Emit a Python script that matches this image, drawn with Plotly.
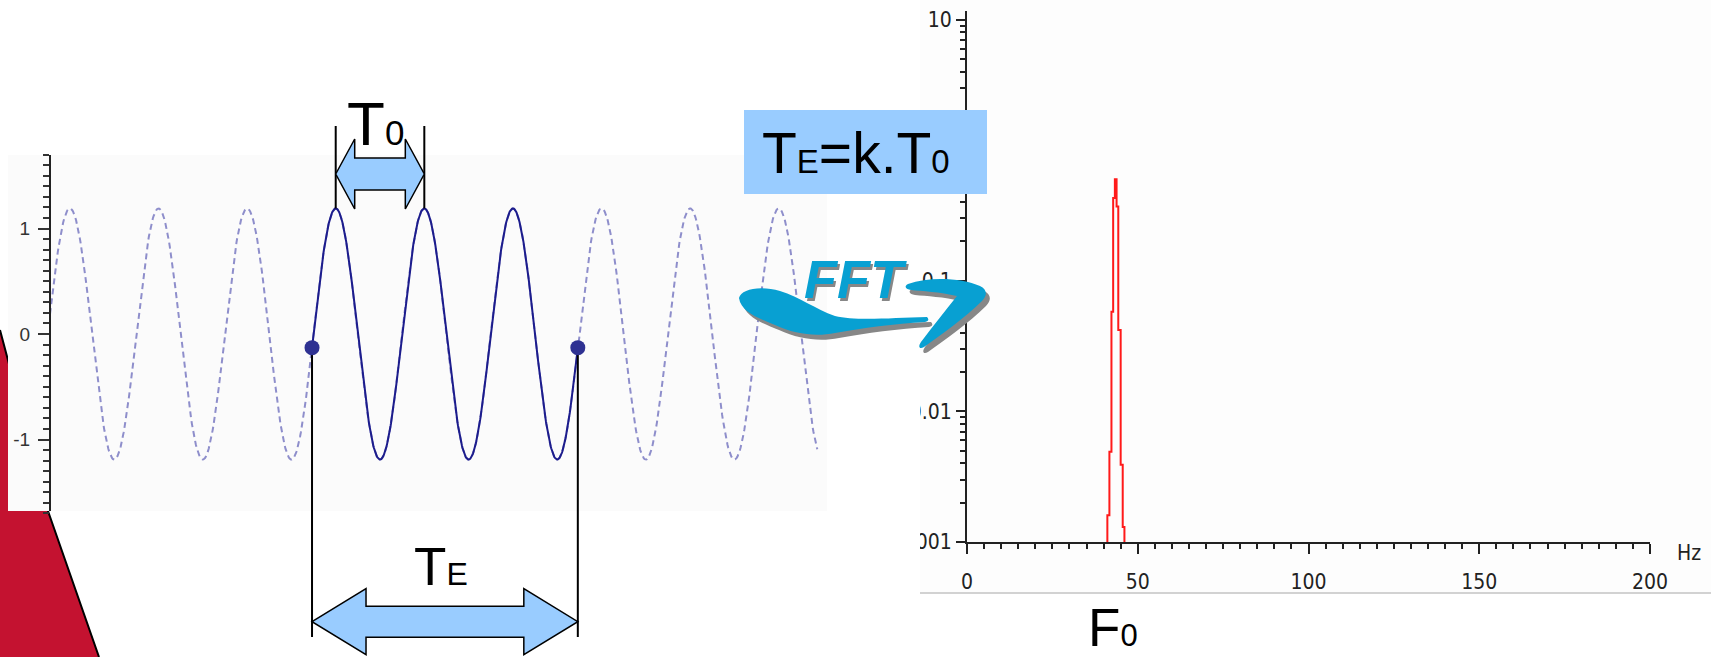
import numpy as np
import plotly.graph_objects as go

W, H = 1711, 657

# ---- test tone (left panel) ----
F0_HZ = 43.3              # tone frequency
AMPLITUDE = 1.19
ZERO_CROSS_MS = 68.7      # a rising zero crossing
SIGNAL_SPAN_MS = (0.0, 200.0)
K_PERIODS = 3             # the analysis window holds k whole periods
WINDOW_START_MS = 68.3
SIG_TICKS = [-1, 0, 1]
SIG_TICK_TEXT = ["-1", "0", "1"]

# ---- magnitude spectrum of the windowed tone (right panel) ----
SPEC_HZ = [41.1, 41.1, 41.7, 42.3, 42.8, 43.3, 43.8, 44.3, 45.0, 45.6, 46.1]
SPEC_MAG = [0.001, 0.0016, 0.0049, 0.058, 0.43, 0.6, 0.37, 0.042, 0.0039, 0.0013, 0.001]
FREQ_TICKS = [0, 50, 100, 150, 200]
MAG_TICKS = [0.001, 0.01, 0.1, 10]          # the "1" label sits under the formula box
MAG_TICK_TEXT = ["0.001", "0.01", "0.1", "10"]

# ---- panel geometry (pixels) ----
SIG_X0_PX, SIG_X1_PX = 50, 827
SIG_ZERO_PX = 334
SIG_PX_PER_UNIT = 105.5
PERIOD_PX = 88.6
SPEC_X0_PX, SPEC_X1_PX = 967, 1650
SPEC_TOP_PX, SPEC_BOTTOM_PX = 11, 542
SPEC_PX_PER_DECADE = 130.6

TEXT_FONT = "Liberation Sans, Arial, sans-serif"
AXIS_FONT = "Liberation Sans Narrow, Arial Narrow, DejaVu Sans Condensed, sans-serif"
BLUE_FILL = "#99ccff"
CYAN = "#08a0d2"
SHADOW = "#878787"

T0_MS = 1000.0 / F0_HZ
PX_PER_MS = PERIOD_PX / T0_MS


def px(x):
    return x / W


def py(y):
    return 1 - y / H


def yv(pix):
    """signal-axis value at a given pixel row"""
    return (SIG_ZERO_PX - pix) / SIG_PX_PER_UNIT


def tone(t):
    return AMPLITUDE * np.sin(2 * np.pi * F0_HZ * (np.asarray(t) - ZERO_CROSS_MS) / 1000.0)


def path_px(segs, dx=0.0, dy=0.0):
    out = []
    for cmd, pts in segs:
        coords = " ".join(f"{px(x + dx):.5f},{py(y + dy):.5f}" for x, y in pts)
        out.append(f"{cmd} {coords}".strip())
    return " ".join(out)


def double_arrow(xl, xr, yc, head, hh, hs):
    pts = [(xl, yc), (xl + head, yc + hh), (xl + head, yc + hs), (xr - head, yc + hs),
           (xr - head, yc + hh), (xr, yc), (xr - head, yc - hh), (xr - head, yc - hs),
           (xl + head, yc - hs), (xl + head, yc - hh)]
    return "M " + " L ".join(f"{x:.4f},{y:.4f}" for x, y in pts) + " Z"


t = np.arange(SIGNAL_SPAN_MS[0], SIGNAL_SPAN_MS[1] + 1e-9, 0.2)
t1 = WINDOW_START_MS
t2 = WINDOW_START_MS + K_PERIODS * T0_MS
tw = np.linspace(t1, t2, 600)
peak1 = ZERO_CROSS_MS + T0_MS / 4
peak2 = peak1 + T0_MS

bracket_low = yv(637)
t0_top = yv(126)

fig = go.Figure()

# full tone, dashed
fig.add_trace(go.Scatter(x=t, y=tone(t), mode="lines",
                         line=dict(color="#8e8ecb", width=2, dash="6px,4px"),
                         xaxis="x", yaxis="y", hoverinfo="skip"))
# analysed window, solid
fig.add_trace(go.Scatter(x=tw, y=tone(tw), mode="lines",
                         line=dict(color="#1c1c8c", width=2),
                         xaxis="x", yaxis="y", hoverinfo="skip"))
# window edges (TE) and one period (T0)
for tx, ya, yb in [(t1, float(tone(t1)), bracket_low), (t2, float(tone(t2)), bracket_low),
                   (peak1, AMPLITUDE, t0_top), (peak2, AMPLITUDE, t0_top)]:
    fig.add_trace(go.Scatter(x=[tx, tx], y=[ya, yb], mode="lines",
                             line=dict(color="black", width=2),
                             xaxis="x", yaxis="y", hoverinfo="skip"))
fig.add_trace(go.Scatter(x=[t1, t2], y=tone([t1, t2]), mode="markers",
                         marker=dict(color="#2e3192", size=15),
                         xaxis="x", yaxis="y", hoverinfo="skip"))

# spectrum
fig.add_trace(go.Scatter(x=SPEC_HZ, y=SPEC_MAG, mode="lines", line_shape="hv",
                         line=dict(color="#ff1a1a", width=2),
                         xaxis="x2", yaxis="y2", hoverinfo="skip"))

shapes = []
# crimson slide decoration at the left edge
shapes.append(dict(type="path", xref="paper", yref="paper", layer="below",
                   path=path_px([("M", [(0, 330)]), ("L", [(48, 511)]), ("L", [(99, 657)]),
                                 ("L", [(0, 657)]), ("Z", [])]),
                   fillcolor="#c41230", line=dict(width=0)))
shapes.append(dict(type="path", xref="paper", yref="paper", layer="below",
                   path=path_px([("M", [(0, 330)]), ("L", [(48, 511)]), ("L", [(99, 657)])]),
                   line=dict(color="black", width=2)))
# panel backgrounds
shapes.append(dict(type="rect", xref="paper", yref="paper", layer="below",
                   x0=px(8), x1=px(827), y0=py(511), y1=py(155),
                   fillcolor="#fbfbfb", line=dict(width=0)))
shapes.append(dict(type="rect", xref="paper", yref="paper", layer="below",
                   x0=px(920), x1=1, y0=py(593), y1=1,
                   fillcolor="#fdfdfd", line=dict(width=0)))
shapes.append(dict(type="line", xref="paper", yref="paper", layer="below",
                   x0=px(920), x1=1, y0=py(593), y1=py(593),
                   line=dict(color="#d2d2d2", width=2)))
# signal axis line
shapes.append(dict(type="line", xref="paper", yref="paper", layer="above",
                   x0=px(SIG_X0_PX), x1=px(SIG_X0_PX), y0=py(511), y1=py(155),
                   line=dict(color="#222", width=2)))
# T0 and TE double arrows
head_t0 = 19 / PX_PER_MS
head_te = 54 / PX_PER_MS
shapes.append(dict(type="path", xref="x", yref="y", layer="above",
                   path=double_arrow(peak1, peak2, yv(174), head_t0,
                                     35 / SIG_PX_PER_UNIT, 16 / SIG_PX_PER_UNIT),
                   fillcolor=BLUE_FILL, line=dict(color="black", width=1.5)))
shapes.append(dict(type="path", xref="x", yref="y", layer="above",
                   path=double_arrow(t1, t2, yv(621.7), head_te,
                                     33 / SIG_PX_PER_UNIT, 15.5 / SIG_PX_PER_UNIT),
                   fillcolor=BLUE_FILL, line=dict(color="black", width=1.5)))
# left border of the spectrum screenshot
shapes.append(dict(type="rect", xref="paper", yref="paper", layer="above",
                   x0=px(828), x1=px(920), y0=py(580), y1=py(380),
                   fillcolor="white", line=dict(width=0)))
# formula box
shapes.append(dict(type="rect", xref="paper", yref="paper", layer="above",
                   x0=px(744), x1=px(987), y0=py(194), y1=py(110),
                   fillcolor=BLUE_FILL, line=dict(width=0)))

# FFT swoosh: body and arrow head
body = [("M", [(739, 298)]),
        ("C", [(741, 289), (760, 285), (780, 291)]),
        ("C", [(800, 297), (815, 309), (835, 316)]),
        ("C", [(855, 321), (890, 318), (927, 317)]),
        ("C", [(929, 319), (929, 321), (925, 322)]),
        ("C", [(895, 324), (862, 328), (835, 333)]),
        ("C", [(815, 337), (795, 334), (775, 325)]),
        ("C", [(758, 318), (741, 312), (739, 298)]),
        ("Z", [])]
head = [("M", [(908, 284)]),
        ("C", [(930, 276), (962, 278), (980, 286)]),
        ("C", [(988, 290), (987, 296), (982, 301)]),
        ("C", [(965, 318), (942, 334), (924, 347)]),
        ("C", [(919, 350), (918, 346), (921, 342)]),
        ("C", [(933, 326), (946, 310), (957, 296)]),
        ("C", [(940, 292), (922, 291), (911, 290)]),
        ("C", [(905, 289), (904, 286), (908, 284)]),
        ("Z", [])]
for segs in (body, head):
    shapes.append(dict(type="path", xref="paper", yref="paper", layer="above",
                       path=path_px(segs, 4, 5), fillcolor=SHADOW, line=dict(width=0)))
for segs in (body, head):
    shapes.append(dict(type="path", xref="paper", yref="paper", layer="above",
                       path=path_px(segs), fillcolor=CYAN, line=dict(width=0)))


def note(text, x, y, size, color="black", xanchor="left", yanchor="middle", **font_kw):
    return dict(text=text, x=px(x), y=py(y), xref="paper", yref="paper",
                xanchor=xanchor, yanchor=yanchor, showarrow=False,
                borderpad=0, borderwidth=0,
                font=dict(family=TEXT_FONT, size=size, color=color, **font_kw))


annotations = [
    note('T<span style="font-size:35px">0</span>', 346.6, 123.5, 62),
    note('T<span style="font-size:32px">E</span>', 413.8, 566.6, 53),
    note('T<span style="font-size:33px">E</span>=k.T<span style="font-size:33px">0</span>',
         761.7, 153.3, 57),
    # text box rests on the lower edge of the page
    note('F<span style="font-size:31px">0</span>', 1087.8, H, 53, yanchor="bottom"),
    dict(text="Hz", x=px(1677), y=py(553), xref="paper", yref="paper",
         xanchor="left", yanchor="middle", showarrow=False, borderpad=0, borderwidth=0,
         font=dict(family=AXIS_FONT, size=21, color="#222")),
    note("FFT", 858, 281.5, 54, color=SHADOW, xanchor="center", weight="bold", style="italic"),
    note("FFT", 855, 278.5, 54, color=CYAN, xanchor="center", weight="bold", style="italic"),
]

minor_sig = [round(v / 10, 1) for v in range(-17, 18)]

fig.update_layout(
    width=W, height=H, autosize=False,
    margin=dict(l=0, r=0, t=0, b=0, pad=0, autoexpand=False),
    paper_bgcolor="white",
    plot_bgcolor="rgba(0,0,0,0)",
    showlegend=False,
    shapes=shapes,
    annotations=annotations,
    xaxis=dict(domain=[px(SIG_X0_PX), px(SIG_X1_PX)],
               range=[0, (SIG_X1_PX - SIG_X0_PX) / PX_PER_MS],
               visible=False, fixedrange=True, automargin=False),
    yaxis=dict(domain=[0, 1], anchor="x", automargin=False,
               range=[yv(H), yv(0)],
               showgrid=False, zeroline=False, showline=False,
               tickmode="array", tickvals=SIG_TICKS, ticktext=SIG_TICK_TEXT,
               ticks="outside", ticklen=11, tickwidth=1.5, tickcolor="#333",
               ticklabelstandoff=4,
               tickfont=dict(family=TEXT_FONT, size=19, color="#333"),
               minor=dict(tickmode="array", tickvals=minor_sig, ticks="outside",
                          ticklen=6, tickwidth=1.5, tickcolor="#333", showgrid=False)),
    xaxis2=dict(domain=[px(SPEC_X0_PX), px(SPEC_X1_PX)], anchor="y2", automargin=False,
                range=[0, 200], showgrid=False, zeroline=False,
                showline=True, linecolor="#222", linewidth=2,
                tickmode="array", tickvals=FREQ_TICKS,
                ticks="outside", ticklen=10, tickwidth=1.5, tickcolor="#222",
                ticklabelstandoff=10,
                tickfont=dict(family=AXIS_FONT, size=21, color="#222"),
                minor=dict(dtick=5, ticks="outside", ticklen=5, tickwidth=1.5,
                           tickcolor="#222", showgrid=False)),
    yaxis2=dict(domain=[py(SPEC_BOTTOM_PX), py(SPEC_TOP_PX)], anchor="x2", automargin=False,
                type="log",
                range=[-3, -3 + (SPEC_BOTTOM_PX - SPEC_TOP_PX) / SPEC_PX_PER_DECADE],
                showgrid=False, zeroline=False,
                showline=True, linecolor="#222", linewidth=2,
                tickmode="array", tickvals=MAG_TICKS, ticktext=MAG_TICK_TEXT,
                ticks="outside", ticklen=9, tickwidth=1.5, tickcolor="#222",
                ticklabelstandoff=0,
                tickfont=dict(family=AXIS_FONT, size=21, color="#222"),
                minor=dict(tickmode="array",
                           tickvals=[m * 10.0 ** e for e in range(-3, 1) for m in range(1, 10)] + [10],
                           ticks="outside", ticklen=5, tickwidth=1.5,
                           tickcolor="#222", showgrid=False)),
)

fig.write_html("out.html", config={"responsive": False})
